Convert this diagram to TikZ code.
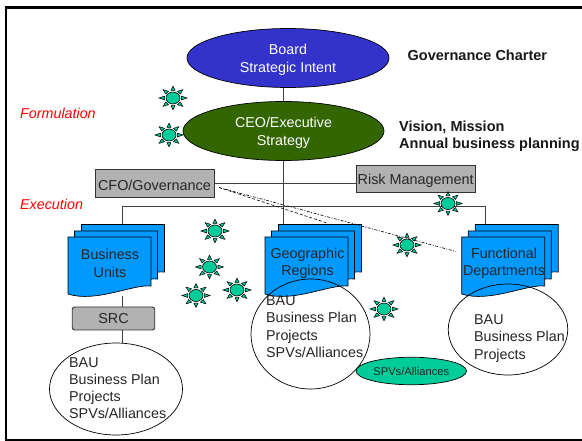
\documentclass[tikz,border=0pt]{standalone}
\usepackage{fontspec}
\usetikzlibrary{shapes.geometric}
\setmainfont{Liberation Sans}
\definecolor{blueE}{HTML}{3333CC}
\definecolor{greenE}{HTML}{336600}
\definecolor{grayB}{HTML}{B2B2B2}
\definecolor{docB}{HTML}{0099FF}
\definecolor{teal}{HTML}{00CC99}
\definecolor{redT}{HTML}{FF0000}
\newcommand{\pushdown}{\rule{0pt}{14.3pt}}
\tikzset{
  link/.style={draw=black!75!white,line width=0.9pt},
  oval/.style={ellipse,draw=black,line width=0.7pt,inner sep=0pt,align=center},
  graybox/.style={rectangle,draw=black!80,fill=grayB,line width=0.9pt,inner sep=0pt,font=\fontsize{14.4}{16}\selectfont,text=black!85},
  doc/.style={draw=black,fill=docB,line width=0.7pt},
  lbl/.style={inner sep=0pt,align=left,font=\fontsize{14.3}{17.3}\selectfont,text=black!85},
  head/.style={inner sep=0pt,align=left,font=\bfseries\fontsize{14.5}{17}\selectfont,text=black!90},
  side/.style={inner sep=0pt,font=\itshape\fontsize{14.3}{16}\selectfont,text=redT},
  sun/.pic={
    \foreach \a in {0,45,...,315}{
      \path[draw=black,fill=teal,line width=0.5pt]
        ({\a-14}:8.6 and 7.8) -- (\a:14 and 11.8) -- ({\a+14}:8.6 and 7.8) -- cycle;
    }
    \path[draw=black,fill=teal,line width=0.6pt] (0,0) ellipse (7 and 6);
  }
}
\newcommand{\docsheet}[4]{% left, right, top, bottom-left
  \path[doc] (#1,#3) -- (#2,#3) -- (#2,{#4-8})
    .. controls ({#2-18},{#4-10}) and ({#1+28},{#4+9}) .. (#1,#4) -- cycle;
}
\newcommand{\docstack}[1]{% left edge of the front sheet
  \docsheet{#1+13.5}{#1+96.5}{224.5}{280}
  \docsheet{#1+6.5}{#1+89.5}{231}{287}
  \docsheet{#1}{#1+83}{237}{294}
}
\begin{document}
\begin{tikzpicture}[x=1pt,y=-1pt]
\useasboundingbox (0,0) rectangle (582,441);
\fill[white] (0,0) rectangle (582,441);
\begin{scope}
\clip (0,0) rectangle (582,441);
\draw[black,line width=2.4pt] (5.8,7.6) rectangle (600,440);
\end{scope}

% anchors for connectors
\coordinate (bracketL) at (122.5,206);
\coordinate (bracketM) at (283,206);
\coordinate (bracketR) at (485,206);
\coordinate (buL) at (122.5,230);
\coordinate (grT) at (283,226);
\coordinate (fdT) at (485,226);
\coordinate (dashA) at (219,187.5);
\coordinate (dashB) at (456,251.5);
\coordinate (dashC) at (327,223);
\coordinate (buB) at (122.5,296);

% connectors beneath shapes
\draw[link] (283,87) -- (283,101);
\draw[link] (283,160) -- (grT);
\draw[link] (bracketL) -- (bracketR);
\draw[link] (bracketL) -- (buL);
\draw[link] (bracketR) -- (fdT);
\draw[link] (buB) -- (122.5,343);
\draw[link] (214,183) -- (356,183);

% documents
\docstack{68}
\docstack{265}
\docstack{461.7}

% ovals
\node[oval,fill=blueE,minimum width=202pt,minimum height=59pt,text=white,font=\fontsize{14.3}{18}\selectfont] (board) at (288,58) {\pushdown Board\\Strategic Intent};
\node[oval,fill=greenE,minimum width=201pt,minimum height=59pt,text=white,font=\fontsize{14.3}{18}\selectfont] (ceo) at (283.5,131) {\pushdown CEO/Executive\\Strategy};

% grey boxes
\node[graybox,minimum width=119pt,minimum height=27.5pt] (cfo) at (154.5,183.5) {\pushdown CFO/Governance};
\node[graybox,minimum width=119.5pt,minimum height=27pt] (risk) at (415.7,178.5) {\pushdown Risk Management};
\node[graybox,rounded corners=2.5pt,minimum width=82.5pt,minimum height=23pt] (src) at (113.5,318.5) {SRC};

% dashed links
\draw[black,line width=0.6pt,dash pattern=on 3pt off 1.5pt on 1pt off 1.5pt] (dashA) -- (dashB);
\draw[black,line width=0.6pt,densely dashed] (dashA) -- (dashC);

% document labels
\node[lbl,align=center] (tbu) at (110,263.5) {Business\\Units};
\node[lbl,align=center] (tgr) at (307.5,263.5) {Geographic\\Regions};
\node[lbl,align=center] (tfd) at (504,263.5) {Functional\\Departments};

% content ellipses
\node[oval,minimum width=133pt,minimum height=92pt] (e1) at (116,389) {};
\node[oval,minimum width=119pt,minimum height=110pt] (e2) at (310.5,334) {};
\node[oval,minimum width=119.5pt,minimum height=91pt] (e3) at (508,329.5) {};
\node[lbl,anchor=north west] (t1) at (69,357) {BAU\\Business Plan\\Projects\\SPVs/Alliances};
\node[lbl,anchor=north west] (t2) at (266,295.5) {BAU\\Business Plan\\Projects\\SPVs/Alliances};
\node[lbl,anchor=north west] (t3) at (474,314.5) {BAU\\Business Plan\\Projects};

% SPV oval
\node[oval,fill=teal,minimum width=110.5pt,minimum height=27.5pt,font=\fontsize{11.2}{13}\selectfont,text=black!85] (spv) at (411.3,371) {SPVs/Alliances};

% suns
\pic at (173,98) {sun};
\pic at (169,135) {sun};
\pic at (215,231) {sun};
\pic at (209.5,267) {sun};
\pic at (196,295.5) {sun};
\pic at (237,290) {sun};
\pic at (384,309) {sun};
\pic at (407,245) {sun};
\pic at (448,203.5) {sun};

% side texts
\node[side,anchor=west] (form) at (20,113) {Formulation};
\node[side,anchor=west] (exec) at (20,204) {Execution};
\node[head,anchor=west] (gov) at (407.5,55) {Governance Charter};
\node[head,anchor=north west] (vis) at (399,121) {Vision, Mission\\Annual business planning};
\end{tikzpicture}
\end{document}
